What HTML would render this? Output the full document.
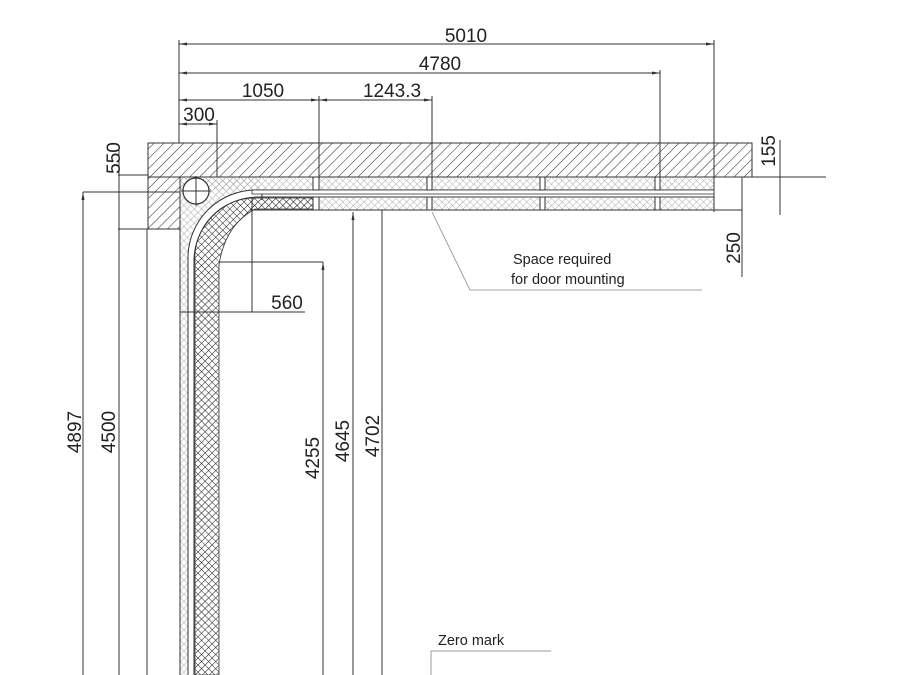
<!DOCTYPE html>
<html><head><meta charset="utf-8"><style>
html,body{margin:0;padding:0;background:#fff;}
svg{display:block;}
text{font-family:"Liberation Sans",Arial,sans-serif;fill:#222;}
</style></head><body>
<svg width="900" height="675" viewBox="0 0 900 675" xmlns="http://www.w3.org/2000/svg">
<defs>
<pattern id="hatch" width="7" height="7" patternUnits="userSpaceOnUse" patternTransform="rotate(45)">
<line x1="0" y1="0" x2="0" y2="7" stroke="#222" stroke-width="1"/>
</pattern>
<pattern id="lx" width="5" height="5" patternUnits="userSpaceOnUse" patternTransform="rotate(45)">
<path d="M0 0H5M0 0V5" stroke="#999" stroke-width="0.8" fill="none"/>
</pattern>
<pattern id="dx" width="5" height="5" patternUnits="userSpaceOnUse" patternTransform="rotate(45)">
<path d="M0 0H5M0 0V5" stroke="#222" stroke-width="1.1" fill="none"/>
</pattern>
<marker id="ar" markerWidth="8" markerHeight="6" refX="8" refY="3" orient="auto" markerUnits="userSpaceOnUse">
<path d="M0 1.5L8 3L0 4.5Z" fill="#333"/>
</marker>
</defs>

<rect x="148" y="143" width="604" height="34" fill="url(#hatch)" stroke="#333" stroke-width="1"/>
<rect x="148" y="177" width="32" height="52" fill="url(#hatch)" stroke="#333" stroke-width="1"/>

<rect x="180" y="177" width="534" height="13" fill="url(#lx)"/>
<rect x="250" y="198" width="464" height="12" fill="url(#lx)"/>
<path d="M180 177H260V190A68 68 0 0 0 188 258V675H180Z" fill="url(#lx)"/>
<path d="M195 675V262A60 60 0 0 1 255 198H313V209H255Q225 225 219 265V675Z" fill="url(#dx)" stroke="#333" stroke-width="0.8"/>
<line x1="180" y1="177" x2="180" y2="675" stroke="#333" stroke-width="1"/>
<line x1="714" y1="177" x2="714" y2="212" stroke="#333" stroke-width="1"/>
<line x1="250" y1="210" x2="714" y2="210" stroke="#333" stroke-width="1"/>

<path d="M188 675V258A68 68 0 0 1 256 190H714" fill="none" stroke="#333" stroke-width="1"/>
<path d="M194 675V262A64 64 0 0 1 258 197H714" fill="none" stroke="#333" stroke-width="1"/>
<rect x="252" y="190" width="462" height="4" fill="#fff" stroke="#333" stroke-width="0.8"/>
<line x1="262" y1="194" x2="262" y2="200" stroke="#333"/>

<g fill="#fff" stroke="#333" stroke-width="1">
<rect x="313" y="177" width="6" height="13"/><rect x="313" y="197" width="6" height="13"/>
<rect x="427" y="177" width="5" height="13"/><rect x="427" y="197" width="5" height="13"/>
<rect x="540" y="177" width="5" height="13"/><rect x="540" y="197" width="5" height="13"/>
<rect x="655" y="177" width="5" height="13"/><rect x="655" y="197" width="5" height="13"/>
</g>

<circle cx="196" cy="191" r="13" fill="#fff" stroke="#333" stroke-width="1.2"/>
<line x1="181" y1="191" x2="211" y2="191" stroke="#333"/>
<line x1="196" y1="176" x2="196" y2="206" stroke="#333"/>

<g stroke="#333" stroke-width="1" fill="none">
<line x1="179" y1="40" x2="179" y2="143"/>
<line x1="714" y1="40" x2="714" y2="177"/>
<line x1="660" y1="70" x2="660" y2="177"/>
<line x1="319" y1="96" x2="319" y2="177"/>
<line x1="432" y1="96" x2="432" y2="177"/>
<line x1="217" y1="120" x2="217" y2="177"/>
<line x1="179" y1="44" x2="714" y2="44" marker-end="url(#ar)"/>
<line x1="714" y1="44" x2="179" y2="44" marker-end="url(#ar)"/>
<line x1="179" y1="73" x2="660" y2="73" marker-end="url(#ar)"/>
<line x1="660" y1="73" x2="179" y2="73" marker-end="url(#ar)"/>
<line x1="179" y1="100" x2="319" y2="100" marker-end="url(#ar)"/>
<line x1="319" y1="100" x2="179" y2="100" marker-end="url(#ar)"/>
<line x1="319" y1="100" x2="432" y2="100" marker-end="url(#ar)"/>
<line x1="432" y1="100" x2="319" y2="100" marker-end="url(#ar)"/>
<line x1="179" y1="124" x2="217" y2="124" marker-end="url(#ar)"/>
<line x1="217" y1="124" x2="179" y2="124" marker-end="url(#ar)"/>

<line x1="118" y1="175" x2="148" y2="175"/>
<line x1="118" y1="229" x2="148" y2="229"/>
<line x1="83" y1="192" x2="180" y2="192"/>
<line x1="119" y1="150" x2="119" y2="675"/>
<line x1="83" y1="675" x2="83" y2="192" marker-end="url(#ar)"/>
<line x1="147" y1="229" x2="147" y2="675"/>

<line x1="752" y1="177" x2="826" y2="177"/>
<line x1="780" y1="140" x2="780" y2="215"/>
<line x1="714" y1="210" x2="742" y2="210"/>
<line x1="742" y1="177" x2="742" y2="277"/>

<line x1="252" y1="197" x2="252" y2="312"/>
<line x1="180" y1="312" x2="305" y2="312"/>
<line x1="219" y1="262" x2="323" y2="262"/>
<line x1="323" y1="675" x2="323" y2="262" marker-end="url(#ar)"/>
<line x1="353" y1="675" x2="353" y2="212" marker-end="url(#ar)"/>
<line x1="382" y1="210" x2="382" y2="675"/>

<line x1="431" y1="651" x2="551" y2="651" stroke="#999"/>
<line x1="431" y1="651" x2="431" y2="675" stroke="#999"/>
</g>
<polyline points="432,212 470,290 702,290" fill="none" stroke="#888" stroke-width="0.8"/>

<g font-size="19" text-anchor="middle">
<text x="466" y="42">5010</text>
<text x="440" y="70">4780</text>
<text x="263" y="97">1050</text>
<text x="392" y="97">1243.3</text>
<text x="199" y="121">300</text>
<text x="287" y="309">560</text>
<text transform="translate(120,158) rotate(-90)">550</text>
<text transform="translate(775,151) rotate(-90)">155</text>
<text transform="translate(740,248) rotate(-90)">250</text>
<text transform="translate(81,432) rotate(-90)">4897</text>
<text transform="translate(115,432) rotate(-90)">4500</text>
<text transform="translate(319,458) rotate(-90)">4255</text>
<text transform="translate(349,441) rotate(-90)">4645</text>
<text transform="translate(379,436) rotate(-90)">4702</text>
</g>
<g font-size="14.5">
<text x="513" y="264">Space required</text>
<text x="511" y="284">for door mounting</text>
<text x="438" y="645">Zero mark</text>
</g>
</svg>
</body></html>
